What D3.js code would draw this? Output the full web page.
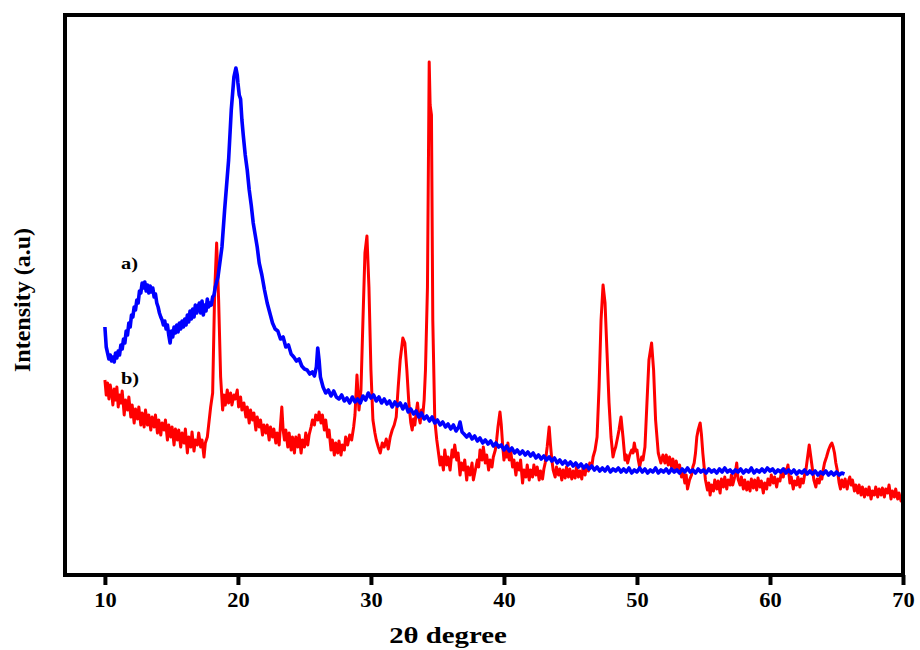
<!DOCTYPE html>
<html>
<head>
<meta charset="utf-8">
<script src="https://cdn.jsdelivr.net/npm/d3@7"></script>
<style>
  body { margin: 0; background: #fff; }
  text { font-family: "Liberation Serif", "Times New Roman", serif; font-weight: bold; }
</style>
</head>
<body>
<svg class="chart"></svg>
<script>
// XRD patterns: a) blue, b) red.  [2theta, intensity a.u.]
var xTicks = [10, 20, 30, 40, 50, 60, 70];
var seriesNames = ["a)", "b)"];
var seriesColors = ["#0000ff", "#ff0000"];

var seriesA = [
  [10.0,248],[10.05,238],[10.1,228],[10.2,222],[10.3,216],[10.4,220],[10.5,214],[10.6,218],
  [10.7,213],[10.8,222],[10.9,217],[11.0,224],[11.1,220],[11.2,230],[11.3,226],[11.4,236],
  [11.5,232],[11.6,244],[11.7,240],[11.8,252],[11.9,248],[12.0,260],[12.1,258],[12.2,268],
  [12.3,265],[12.4,275],[12.5,272],[12.6,284],[12.7,282],[12.8,292],[12.9,287],[13.0,293],
  [13.1,284],[13.2,290],[13.3,282],[13.4,289],[13.5,283],[13.6,287],[13.7,278],[13.8,281],
  [13.9,272],[14.0,268],[14.1,262],[14.2,258],[14.3,255],[14.4,250],[14.5,254],[14.6,246],
  [14.7,250],[14.8,240],[14.9,232],[15.0,244],[15.1,238],[15.2,248],[15.3,242],[15.4,250],
  [15.5,243],[15.6,252],[15.7,246],[15.8,254],[15.9,248],[16.0,256],[16.1,250],[16.2,260],
  [16.3,253],[16.4,264],[16.5,256],[16.6,266],[16.7,258],[16.8,270],[16.9,262],[17.0,268],
  [17.1,272],[17.2,262],[17.3,274],[17.4,260],[17.5,270],[17.6,264],[17.7,276],[17.8,268],
  [17.9,272],[18.0,270],[18.1,278],[18.2,280],[18.3,288],[18.5,298],[18.8,328],[19.0,365],
  [19.3,415],[19.5,465],[19.7,498],[19.85,507],[19.95,500],[20.0,492],[20.1,480],[20.2,476],
  [20.3,455],[20.4,440],[20.55,420],[20.7,405],[20.85,385],[21.0,370],[21.15,352],[21.3,340],
  [21.45,328],[21.6,312],[21.8,300],[22.0,285],[22.2,272],[22.4,262],[22.6,252],[22.8,246],
  [23.0,244],[23.2,236],[23.4,238],[23.6,228],[23.8,230],[24.0,221],[24.2,218],[24.4,214],
  [24.6,216],[24.8,209],[25.0,206],[25.2,205],[25.4,201],[25.6,203],[25.75,199],[25.9,208],
  [26.0,227],[26.1,215],[26.2,198],
  [26.4,188],[26.6,182],[26.8,185],[27.0,179],[27.2,184],[27.4,178],[27.6,176],[27.8,180],
  [28.0,174],[28.2,177],[28.4,172],[28.6,178],[28.8,173],[29.0,176],[29.2,172],[29.4,179],
  [29.6,175],[29.8,182],[30.0,177],[30.2,180],[30.4,174],[30.6,178],[30.8,172],[31.0,176],
  [31.2,171],[31.4,174],[31.6,168],[31.8,173],[32.0,169],[32.2,172],[32.4,166],[32.6,171],
  [32.8,163],[33.0,166],[33.2,161],[33.4,164],[33.6,158],[33.8,162],[34.0,156],[34.2,159],
  [34.4,154],[34.6,158],[34.8,152],[35.0,155],[35.2,150],[35.4,153],[35.6,148],[35.8,151],
  [36.0,146],[36.2,150],[36.4,144],[36.6,148],[36.7,153],[36.85,143],[37.0,141],[37.2,138],
  [37.4,141],[37.6,136],[37.8,139],[38.0,134],[38.2,137],[38.4,132],[38.6,135],[38.8,131],
  [39.0,134],[39.2,129],[39.4,132],[39.6,128],[39.8,130],[40.0,125],[40.2,129],[40.4,124],
  [40.6,127],[40.8,122],[41.0,125],[41.2,121],[41.4,124],[41.6,120],[41.8,123],[42.0,119],
  [42.2,122],[42.4,117],[42.6,120],[42.8,116],[43.0,119],[43.2,115],[43.4,118],[43.6,114],
  [43.8,117],[44.0,112],[44.2,115],[44.4,111],[44.6,114],[44.8,110],[45.0,113],[45.2,109],
  [45.4,112],[45.6,108],[45.8,111],[46.0,107],[46.2,110],[46.4,106],[46.6,109],[46.8,105],
  [47.0,108],[47.2,104],[47.4,107],[47.6,104],[47.8,108],[48.0,103],[48.2,106],[48.4,104],
  [48.6,107],[48.8,103],[49.0,106],[49.2,103],[49.4,107],[49.6,102],[49.8,105],[50.0,103],
  [50.2,107],[50.4,103],[50.6,106],[50.8,102],[51.0,105],[51.2,103],[51.4,107],[51.6,102],
  [51.8,105],[52.0,103],[52.2,106],[52.4,102],[52.6,106],[52.8,103],[53.0,105],[53.2,102],
  [53.4,106],[53.6,103],[53.8,107],[54.0,103],[54.2,105],[54.4,102],[54.6,106],[54.8,103],
  [55.0,105],[55.2,102],[55.4,106],[55.6,103],[55.8,105],[56.0,102],[56.2,106],[56.4,103],
  [56.6,107],[56.8,103],[57.0,105],[57.2,102],[57.4,105],[57.6,103],[57.8,106],[58.0,102],
  [58.2,105],[58.4,103],[58.6,107],[58.8,102],[59.0,105],[59.2,103],[59.4,106],[59.6,103],
  [59.8,107],[60.0,104],[60.2,106],[60.4,102],[60.6,105],[60.8,103],[61.0,106],[61.2,102],
  [61.4,105],[61.6,102],[61.8,105],[62.0,101],[62.2,104],[62.4,102],[62.6,105],[62.8,101],
  [63.0,104],[63.2,101],[63.4,104],[63.6,100],[63.8,103],[64.0,101],[64.2,104],[64.4,100],
  [64.6,103],[64.8,100],[65.0,103],[65.2,100],[65.4,102],[65.6,101]
];

var seriesB = [
  [10.0,195],[10.1,180],[10.2,192],[10.3,176],[10.4,190],[10.5,183],[10.6,170],[10.7,186],
  [10.8,175],[10.9,188],[11.0,168],[11.1,180],[11.2,172],[11.3,184],[11.45,160],[11.55,175],
  [11.7,165],[11.8,178],[11.95,158],[12.05,170],[12.2,152],[12.3,166],[12.45,156],[12.55,168],
  [12.7,150],[12.8,162],[12.95,148],[13.05,165],[13.2,150],[13.3,160],[13.45,145],[13.55,158],
  [13.7,148],[13.8,160],[13.95,142],[14.05,155],[14.2,140],[14.3,152],[14.45,145],[14.55,155],
  [14.7,135],[14.8,150],[14.95,138],[15.05,148],[15.2,130],[15.3,146],[15.45,135],[15.55,145],
  [15.7,128],[15.8,142],[15.95,132],[16.05,146],[16.2,122],[16.3,138],[16.45,128],[16.55,143],
  [16.7,124],[16.8,135],[16.95,130],[17.05,142],[17.2,128],[17.3,135],[17.45,118],[17.55,132],
  [17.7,138],[17.8,150],[17.95,168],[18.1,182],[18.25,282],[18.4,332],[18.55,275],[18.7,198],
  [18.85,165],[18.95,180],[19.05,170],[19.2,185],[19.3,172],[19.45,182],[19.55,170],[19.7,180],
  [19.8,176],[19.95,185],[20.05,168],[20.2,178],[20.3,165],[20.45,172],[20.6,158],[20.7,168],
  [20.85,152],[20.95,165],[21.1,155],[21.2,162],[21.35,145],[21.45,158],[21.6,148],[21.7,155],
  [21.85,140],[21.95,150],[22.1,142],[22.2,150],[22.35,135],[22.45,148],[22.6,138],[22.7,146],
  [22.85,132],[22.95,142],[23.1,130],[23.2,150],[23.3,168],[23.4,145],[23.5,135],[23.6,145],
  [23.75,128],[23.85,142],[24.0,125],[24.1,138],[24.25,122],[24.35,138],[24.5,128],[24.6,140],
  [24.75,122],[24.85,135],[25.0,128],[25.1,142],[25.25,130],[25.35,140],[25.5,148],[25.6,155],
  [25.75,150],[25.85,160],[26.0,155],[26.1,163],[26.25,152],[26.35,160],[26.5,145],[26.6,155],
  [26.75,138],[26.85,145],[27.0,125],[27.1,135],[27.25,120],[27.35,132],[27.5,122],[27.6,134],
  [27.75,120],[27.85,130],[28.0,125],[28.1,138],[28.25,130],[28.4,140],[28.55,135],[28.7,148],
  [28.8,160],[28.95,200],[29.1,165],[29.25,185],[29.4,255],[29.55,322],[29.7,339],[29.85,288],
  [30.0,205],[30.15,155],[30.3,142],[30.4,135],[30.55,128],[30.7,122],[30.85,132],[31.0,128],
  [31.15,136],[31.3,126],[31.45,138],[31.6,145],[31.75,150],[31.9,158],[32.05,188],[32.2,215],
  [32.4,237],[32.55,232],[32.7,205],[32.85,172],[33.0,152],[33.1,145],[33.2,156],[33.3,150],
  [33.4,162],[33.5,172],[33.6,158],[33.7,152],[33.8,165],[33.9,160],[34.0,175],[34.1,205],
  [34.25,288],[34.38,513],[34.45,470],[34.55,460],[34.65,255],[34.8,155],[34.95,135],[35.05,125],
  [35.2,110],[35.3,118],[35.45,105],[35.55,125],[35.7,110],[35.8,118],[35.95,105],[36.1,125],
  [36.2,118],[36.3,130],[36.45,115],[36.55,122],[36.7,100],[36.8,112],[36.95,105],[37.05,115],
  [37.2,95],[37.3,108],[37.45,100],[37.6,112],[37.7,95],[37.85,105],[38.0,115],[38.1,108],
  [38.2,125],[38.35,115],[38.45,128],[38.6,112],[38.7,120],[38.85,105],[38.95,115],[39.1,108],
  [39.2,118],[39.35,125],[39.45,135],[39.55,148],[39.7,163],[39.8,150],[39.9,130],[40.0,115],
  [40.1,125],[40.2,118],[40.3,132],[40.4,115],[40.5,125],[40.65,108],[40.75,115],[40.9,100],
  [41.0,112],[41.15,105],[41.25,115],[41.4,92],[41.5,105],[41.65,98],[41.75,110],[41.9,95],
  [42.0,105],[42.15,98],[42.25,110],[42.4,100],[42.5,108],[42.65,95],[42.75,104],[42.9,96],
  [43.0,106],[43.1,112],[43.25,128],[43.4,148],[43.5,130],[43.6,115],[43.7,105],[43.85,98],
  [43.95,108],[44.1,100],[44.2,106],[44.35,95],[44.45,105],[44.6,97],[44.7,108],[44.85,98],
  [44.95,106],[45.1,96],[45.2,104],[45.35,97],[45.45,108],[45.6,98],[45.7,104],[45.85,96],
  [45.95,108],[46.1,100],[46.2,110],[46.35,104],[46.45,112],[46.6,108],[46.7,118],[46.85,125],
  [47.0,138],[47.15,188],[47.3,255],[47.45,290],[47.6,272],[47.75,222],[47.9,172],[48.05,138],
  [48.2,118],[48.3,124],[48.4,128],[48.55,138],[48.65,145],[48.8,158],[48.95,138],[49.1,115],
  [49.2,120],[49.3,112],[49.45,120],[49.6,125],[49.7,122],[49.8,132],[49.9,124],[50.0,125],
  [50.1,115],[50.2,108],[50.35,118],[50.45,115],[50.6,128],[50.75,172],[50.9,215],[51.1,232],
  [51.25,205],[51.4,155],[51.6,122],[51.8,112],[51.95,120],[52.1,112],[52.2,120],[52.35,110],
  [52.45,118],[52.6,108],[52.7,116],[52.85,106],[52.95,114],[53.1,104],[53.2,110],[53.35,98],
  [53.45,104],[53.6,92],[53.7,100],[53.8,86],[53.95,95],[54.1,100],[54.2,108],[54.3,112],
  [54.4,122],[54.5,138],[54.6,145],[54.75,152],[54.85,140],[54.95,122],[55.05,108],[55.15,95],
  [55.3,85],[55.4,92],[55.5,80],[55.6,90],[55.75,84],[55.85,95],[56.0,86],[56.1,94],
  [56.25,82],[56.35,96],[56.5,88],[56.6,98],[56.75,86],[56.85,95],[57.0,90],[57.1,100],
  [57.2,90],[57.35,98],[57.5,112],[57.6,96],[57.75,90],[57.85,98],[58.0,86],[58.1,95],
  [58.25,85],[58.35,93],[58.5,84],[58.6,96],[58.75,87],[58.85,95],[59.0,85],[59.1,97],
  [59.25,88],[59.35,94],[59.5,82],[59.6,92],[59.75,86],[59.85,96],[60.0,90],[60.1,100],
  [60.25,92],[60.35,98],[60.5,88],[60.6,96],[60.75,94],[60.85,102],[61.0,98],[61.1,106],
  [61.25,104],[61.35,110],[61.5,92],[61.6,98],[61.75,86],[61.85,94],[62.0,90],[62.1,98],
  [62.25,88],[62.35,96],[62.5,92],[62.6,100],[62.7,105],[62.8,115],[62.95,130],[63.05,120],
  [63.2,105],[63.3,95],[63.45,88],[63.55,96],[63.7,92],[63.8,100],[63.9,96],[64.0,105],
  [64.1,112],[64.25,118],[64.4,125],[64.55,130],[64.65,132],[64.75,128],[64.85,122],[64.95,112],
  [65.1,102],[65.2,92],[65.3,86],[65.4,95],[65.55,88],[65.65,96],[65.8,86],[65.9,94],
  [66.0,98],[66.1,90],[66.2,95],[66.35,84],[66.45,90],[66.6,82],[66.7,90],[66.85,80],
  [66.95,88],[67.1,78],[67.2,86],[67.35,80],[67.45,88],[67.6,76],[67.7,84],[67.85,80],
  [67.95,88],[68.1,78],[68.2,86],[68.35,80],[68.45,87],[68.6,78],[68.7,86],[68.85,82],
  [68.95,90],[69.1,76],[69.2,84],[69.35,78],[69.45,86],[69.6,76],[69.7,82],[69.85,74],
  [70.0,82]
];

var width = 920, height = 650;
var margin = {top: 15, right: 17, bottom: 75, left: 65};

var svg = d3.select(".chart")
    .attr("width", width)
    .attr("height", height);

var x = d3.scaleLinear().domain([7, 70]).range([margin.left, width - margin.right]);
var y = d3.scaleLinear().domain([0, 560]).range([height - margin.bottom, margin.top]);

var line = d3.line()
    .x(function(d){ return x(d[0]); })
    .y(function(d){ return y(d[1]); });

// red underneath, blue on top
svg.append("path")
   .datum(seriesB)
   .attr("fill", "none")
   .attr("stroke", seriesColors[1])
   .attr("stroke-width", 3)
   .attr("stroke-linejoin", "round")
   .attr("d", line);

svg.append("path")
   .datum(seriesA)
   .attr("fill", "none")
   .attr("stroke", seriesColors[0])
   .attr("stroke-width", 3.6)
   .attr("stroke-linejoin", "round")
   .attr("d", line);

// frame
svg.append("rect")
   .attr("x", margin.left)
   .attr("y", margin.top)
   .attr("width", width - margin.right - margin.left)
   .attr("height", height - margin.bottom - margin.top)
   .attr("fill", "none")
   .attr("stroke", "#000")
   .attr("stroke-width", 4);

var xAxis = svg.append("g")
   .attr("transform", "translate(0," + (height - margin.bottom) + ")")
   .call(d3.axisBottom(x).tickValues(xTicks).tickSize(10).tickSizeOuter(0).tickPadding(8));
xAxis.select(".domain").remove();
xAxis.selectAll(".tick line").attr("stroke-width", 4).attr("stroke", "#000");
xAxis.selectAll(".tick text")
   .attr("font-size", 20)
   .attr("fill", "#000")
   .attr("transform", "scale(1.12,1)")
   .style("font-family", "'Liberation Serif', serif")
   .style("font-weight", "bold");

svg.append("text")
   .attr("transform", "translate(448,643) scale(1.2,1)")
   .attr("text-anchor", "middle")
   .attr("font-size", 24)
   .text("2θ degree");

svg.append("text")
   .attr("transform", "translate(30,300) rotate(-90)")
   .attr("text-anchor", "middle")
   .attr("font-size", 24)
   .text("Intensity (a.u)");

// series labels
svg.append("text").attr("transform", "translate(121,269) scale(1.2,1)").attr("font-size", 17).text(seriesNames[0]);
svg.append("text").attr("transform", "translate(121,384) scale(1.2,1)").attr("font-size", 17).text(seriesNames[1]);
</script>
</body>
</html>
